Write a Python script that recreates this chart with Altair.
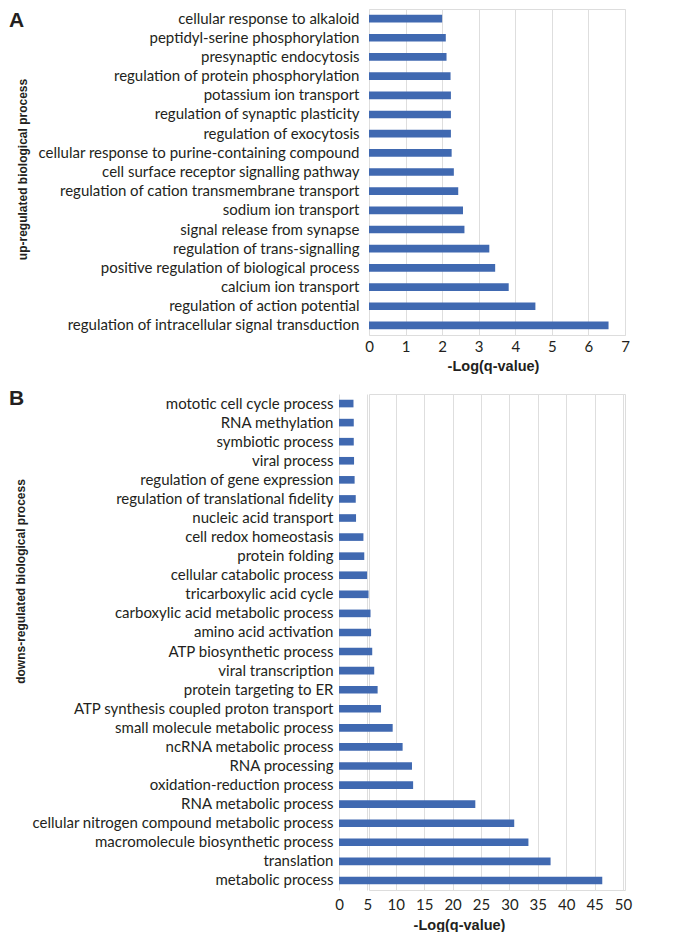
import altair as alt
import pandas as pd

# ---------------- data ----------------
up_terms = [
    "cellular response to alkaloid",
    "peptidyl-serine phosphorylation",
    "presynaptic endocytosis",
    "regulation of protein phosphorylation",
    "potassium ion transport",
    "regulation of synaptic plasticity",
    "regulation of exocytosis",
    "cellular response to purine-containing compound",
    "cell surface receptor signalling pathway",
    "regulation of cation transmembrane transport",
    "sodium ion transport",
    "signal release from synapse",
    "regulation of trans-signalling",
    "positive regulation of biological process",
    "calcium ion transport",
    "regulation of action potential",
    "regulation of intracellular signal transduction",
]
up_values = [2.00, 2.10, 2.12, 2.23, 2.24, 2.24, 2.24, 2.26, 2.32,
             2.44, 2.57, 2.61, 3.29, 3.45, 3.82, 4.55, 6.55]

down_terms = [
    "mototic cell cycle process",
    "RNA methylation",
    "symbiotic process",
    "viral process",
    "regulation of gene expression",
    "regulation of translational fidelity",
    "nucleic acid transport",
    "cell redox homeostasis",
    "protein folding",
    "cellular catabolic process",
    "tricarboxylic acid cycle",
    "carboxylic acid metabolic process",
    "amino acid activation",
    "ATP biosynthetic process",
    "viral transcription",
    "protein targeting to ER",
    "ATP synthesis coupled proton transport",
    "small molecule metabolic process",
    "ncRNA metabolic process",
    "RNA processing",
    "oxidation-reduction process",
    "RNA metabolic process",
    "cellular nitrogen compound metabolic process",
    "macromolecule biosynthetic process",
    "translation",
    "metabolic process",
]
down_values = [2.55, 2.60, 2.60, 2.65, 2.75, 2.95, 3.00, 4.30, 4.45, 4.95,
               5.20, 5.55, 5.65, 5.85, 6.20, 6.80, 7.40, 9.45, 11.20, 12.85,
               13.05, 24.00, 30.85, 33.35, 37.25, 46.35]

up_ticks = [0, 1, 2, 3, 4, 5, 6, 7]
down_ticks = [0, 5, 10, 15, 20, 25, 30, 35, 40, 45, 50]

x_title = "-Log(q-value)"
up_title = "up-regulated biological process"
down_title = "downs-regulated biological process"

# ---------------- style / layout ----------------
BAR = "#4069b1"
GRID = "#dedede"
TXT = "#231f20"
LABEL_FONT = "Lato"
BOLD_FONT = "Liberation Sans"
LFS = 15

PLOT_LEFT = 368          # shared plot origin (page px)
A_W, A_H = 256, 326
B_H = 496
B_X0, B_X1 = 338, 622    # page px of 0 and 50 on panel B


def x_axis(ticks, label_pad, title_x, title_y):
    return alt.Axis(
        values=ticks, grid=True, gridColor=GRID, gridWidth=1,
        domain=False, ticks=False,
        labelFont=LABEL_FONT, labelFontSize=LFS, labelColor=TXT,
        labelPadding=label_pad, labelFlush=False,
        title=x_title, titleFont=BOLD_FONT, titleFontWeight="bold",
        titleFontSize=14.5, titleColor=TXT,
        titleX=title_x, titleY=title_y,
        titleAlign="center", titleBaseline="middle",
    )


def y_axis(ytitle, label_pad, title_cx, title_cy):
    return alt.Axis(
        title=ytitle, domain=False, ticks=False,
        labelFont=LABEL_FONT, labelFontSize=LFS, labelColor=TXT,
        labelPadding=label_pad, labelLimit=600,
        titleFont=BOLD_FONT, titleFontWeight="bold",
        titleFontSize=12, titleColor=TXT,
        titleAngle=270, titleAlign="center", titleBaseline="middle",
        titleX=title_cx - PLOT_LEFT, titleY=title_cy,
    )


def letter_mark(letter, y):
    return alt.Chart(pd.DataFrame({"t": [letter]})).mark_text(
        align="left", baseline="middle", font=BOLD_FONT, fontWeight="bold",
        fontSize=21, color=TXT,
    ).encode(text="t:N", x=alt.value(8 - PLOT_LEFT), y=alt.value(y))


# ---------- panel A ----------
df_a = pd.DataFrame({"term": up_terms, "value": up_values})
bars_a = alt.Chart(df_a).mark_bar(color=BAR).encode(
    x=alt.X("value:Q",
            scale=alt.Scale(domain=[up_ticks[0], up_ticks[-1]], nice=False,
                            range=[0, A_W]),
            axis=x_axis(up_ticks, 4, 124, 31)),
    y=alt.Y("term:N", sort=up_terms,
            scale=alt.Scale(paddingInner=0.6, paddingOuter=0.3),
            axis=y_axis(up_title, 10, 21, 160)),
)
chart_a = alt.layer(bars_a, letter_mark("A", 12)).properties(
    width=A_W, height=A_H)

# ---------- panel B ----------
df_b = pd.DataFrame({"term": down_terms, "value": down_values})
bars_b = alt.Chart(df_b).mark_bar(color=BAR).encode(
    x=alt.X("value:Q",
            scale=alt.Scale(domain=[down_ticks[0], down_ticks[-1]], nice=False,
                            range=[B_X0 - PLOT_LEFT, B_X1 - PLOT_LEFT]),
            axis=x_axis(down_ticks, 7, 90, 35)),
    y=alt.Y("term:N", sort=down_terms,
            scale=alt.Scale(paddingInner=0.6, paddingOuter=0.3),
            axis=y_axis(down_title, PLOT_LEFT - 332, 19, 187)),
)
chart_b = alt.layer(bars_b, letter_mark("B", 4.5)).properties(
    width=A_W, height=B_H)

chart = alt.vconcat(chart_a, chart_b, spacing=14).properties(
    padding={"left": 0, "top": 0, "right": 5, "bottom": 0}
).configure_view(stroke=None).configure(background="white")

chart.save("out.html", embed_options={"renderer": "svg", "actions": False})
